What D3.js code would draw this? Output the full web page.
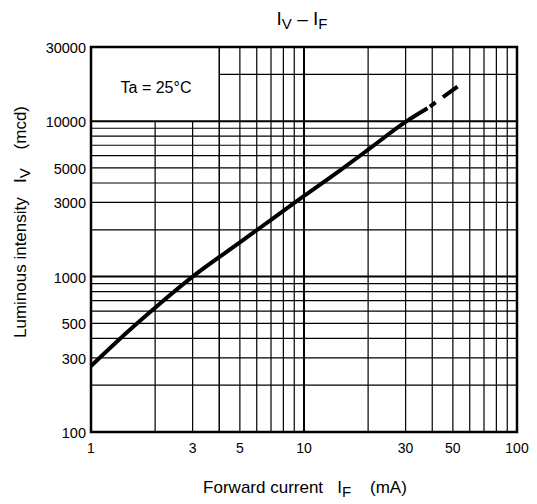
<!DOCTYPE html>
<html>
<head>
<meta charset="utf-8">
<script src="https://cdn.jsdelivr.net/npm/d3@7"></script>
<style>
  body { margin: 0; background: #fff; }
  text { font-family: "Liberation Sans", Arial, sans-serif; fill: #000; }
</style>
</head>
<body>
<div id="chart"></div>
<script>
// Achsenwerte
const xTicks = [1, 3, 5, 10, 30, 50, 100];
const yTicks = [100, 300, 500, 1000, 3000, 5000, 10000, 30000];
const xGrid = [2, 3, 4, 5, 6, 7, 8, 9, 10, 20, 30, 40, 50, 60, 70, 80, 90];
const yGrid = [200, 300, 400, 500, 600, 700, 800, 900, 1000, 2000, 3000, 4000, 5000, 6000, 7000, 8000, 9000, 10000, 20000];

// Kennlinie IV - IF (durchgezogen und gestrichelt)
const ifSolid = [1, 1.5, 2, 3, 5, 7, 10, 15, 20, 30, 38];
const ivSolid = [266, 447, 631, 1000, 1660, 2320, 3300, 4900, 6550, 9900, 12100];
const ifDashed = [38, 54];
const ivDashed = [12100, 17100];

const width = 537, height = 504;
const plotLeft = 91, plotRight = 517, plotTop = 47, plotBottom = 432;
const nb = "\u00a0";

const svg = d3.select("#chart").append("svg")
    .attr("width", width)
    .attr("height", height);

const x = d3.scaleLog().domain([1, 100]).range([plotLeft, plotRight]);
const y = d3.scaleLog().domain([100, 30000]).range([plotBottom, plotTop]);

// Feld mit "Ta = 25°C" hat kein Gitter
const boxRight = x(4), boxBottom = y(10000);

const grid = svg.append("g");

// senkrechte Gitterlinien
xGrid.forEach(function(v){
    const px = x(v);
    const y1 = px < boxRight ? boxBottom : plotTop;
    grid.append("line")
        .attr("x1", px).attr("x2", px)
        .attr("y1", y1).attr("y2", plotBottom)
        .attr("stroke", "#000")
        .attr("stroke-width", v === 10 ? 2 : (v === 4 ? 1.5 : 1.2));
});

// waagerechte Gitterlinien
yGrid.forEach(function(v){
    const py = y(v);
    const x1 = py < boxBottom ? boxRight : plotLeft;
    grid.append("line")
        .attr("x1", x1).attr("x2", plotRight)
        .attr("y1", py).attr("y2", py)
        .attr("stroke", "#000")
        .attr("stroke-width", v === 1000 || v === 10000 ? 2 : 1.2);
});

// Rahmen
svg.append("rect")
    .attr("x", plotLeft).attr("y", plotTop)
    .attr("width", plotRight - plotLeft).attr("height", plotBottom - plotTop)
    .attr("fill", "none")
    .attr("stroke", "#000")
    .attr("stroke-width", 2.5);

svg.append("text")
    .attr("x", 156)
    .attr("y", 93)
    .attr("text-anchor", "middle")
    .attr("font-size", 16)
    .text("Ta = 25°C");

// Tick-Beschriftungen
svg.append("g").selectAll("text")
    .data(xTicks)
    .join("text")
    .attr("x", function(d) { return x(d); })
    .attr("y", plotBottom + 21)
    .attr("text-anchor", "middle")
    .attr("font-size", 14)
    .text(function(d) { return d; });

svg.append("g").selectAll("text")
    .data(yTicks)
    .join("text")
    .attr("x", plotLeft - 5)
    .attr("y", function(d) { return y(d) + 6; })
    .attr("text-anchor", "end")
    .attr("font-size", 14.5)
    .text(function(d) { return d; });

// Kennlinie
const line = d3.line()
    .x(function(d) { return x(d[0]); })
    .y(function(d) { return y(d[1]); })
    .curve(d3.curveMonotoneX);

svg.append("path")
    .datum(d3.zip(ifSolid, ivSolid))
    .attr("d", line)
    .attr("fill", "none")
    .attr("stroke", "#000")
    .attr("stroke-width", 4);

svg.append("path")
    .datum(d3.zip(ifDashed, ivDashed))
    .attr("d", line)
    .attr("fill", "none")
    .attr("stroke", "#000")
    .attr("stroke-width", 4)
    .attr("stroke-dasharray", "0 3 7 9 18 10");

// Titel
const title = svg.append("text")
    .attr("x", 302)
    .attr("y", 25)
    .attr("text-anchor", "middle")
    .attr("font-size", 19);
title.append("tspan").text("I");
title.append("tspan").attr("dy", 4).attr("font-size", 15).text("V");
title.append("tspan").attr("dy", -4).text(nb + "–" + nb + "I");
title.append("tspan").attr("dy", 4).attr("font-size", 15).text("F");

// Achsentitel
const xTitle = svg.append("text")
    .attr("x", 305)
    .attr("y", 493)
    .attr("text-anchor", "middle")
    .attr("font-size", 17);
xTitle.append("tspan").text("Forward current" + nb + nb + nb + "I");
xTitle.append("tspan").attr("dy", 4).attr("font-size", 15).text("F");
xTitle.append("tspan").attr("dy", -4).text(nb + nb + nb + nb + "(mA)");

const yTitle = svg.append("text")
    .attr("transform", "translate(26," + 222 + ") rotate(-90)")
    .attr("text-anchor", "middle")
    .attr("font-size", 17);
yTitle.append("tspan").text("Luminous intensity" + nb + nb + nb + "I");
yTitle.append("tspan").attr("dy", 4).attr("font-size", 15).text("V");
yTitle.append("tspan").attr("dy", -4).text(nb + nb + nb + nb + "(mcd)");
</script>
</body>
</html>
